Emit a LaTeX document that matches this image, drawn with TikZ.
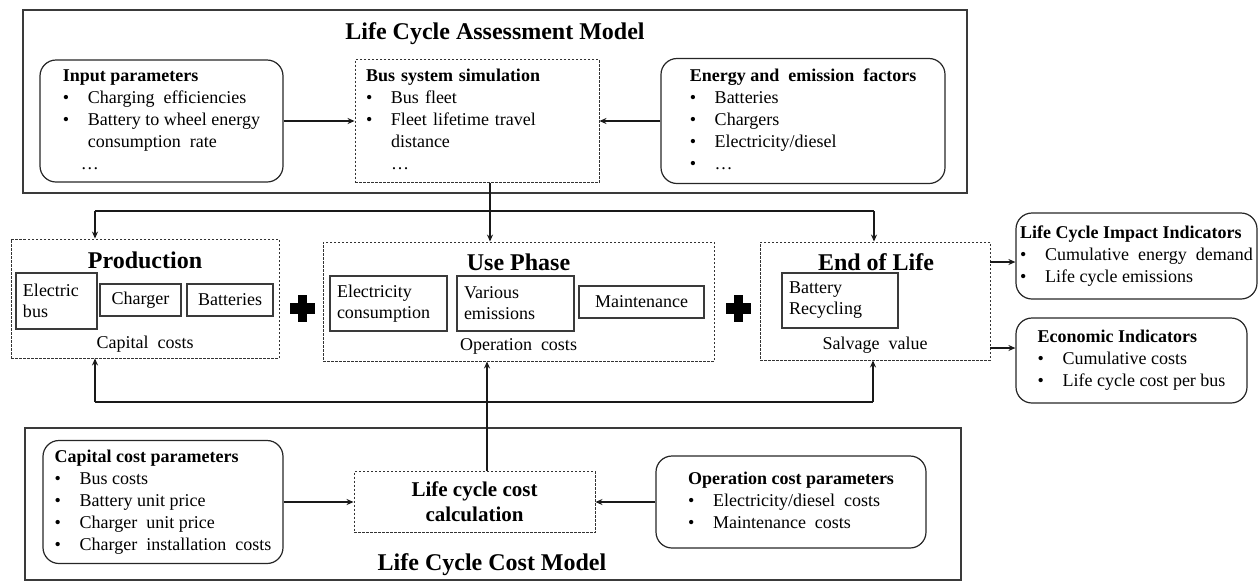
\documentclass[tikz,border=0pt]{standalone}
\usepackage{fontspec}
\setmainfont{Liberation Serif}
\usetikzlibrary{arrows.meta}

\definecolor{linegray}{HTML}{3A3A3A}

% list with a bold heading and bullet rows
\newcommand{\plist}[2]{%
  \begin{tabular}{@{}p{25pt}@{}l@{}}
    \multicolumn{2}{@{}l@{}}{\textbf{#1}}\\
    #2
  \end{tabular}}
\newcommand{\bul}{\textbullet}

\begin{document}
\begin{tikzpicture}[
    x = 1pt, y = -1pt, % pixel grid, y pointing down
    > = {Stealth[length=7pt,width=6pt]}, % arrow head style
    modelbox/.style={draw=linegray, line width=1.2pt, inner sep=0pt},
    parambox/.style={draw=black!85, line width=1.2pt, rounded corners=16pt,
      inner sep=0pt, font=\fontsize{18}{22}\selectfont},
    dashbox/.style={draw=black!80, line width=0.9pt,
      dash pattern=on 2.5pt off 1.5pt, inner sep=0pt},
    itembox/.style={draw=linegray, line width=1.5pt, inner sep=0pt,
      font=\fontsize{18}{21}\selectfont},
    twoline/.style={itembox, align=left, text width=#1, inner xsep=7pt},
    title/.style={font=\fontsize{24}{28}\selectfont\bfseries, anchor=base},
    caption/.style={font=\fontsize{18}{22}\selectfont, anchor=base},
    flow/.style={->, line width=1.8pt, draw=black!90},
    bigflow/.style={->, line width=2.6pt, draw=black!90},
    link/.style={line width=1.8pt, draw=black!90}
  ]
  \useasboundingbox (0,0) rectangle (1260,582);

  % Life Cycle Assessment Model
  \node[modelbox, minimum width=944pt, minimum height=183pt] (lca) at (495,101.5) {};
  \node[title] (lcatitle) at (495,39) {Life Cycle Assessment Model};
  \node[parambox, minimum width=243pt, minimum height=122pt] (input) at (161.5,121)
    {\plist{Input parameters}{\bul & Charging\ \ efficiencies\\
      \bul & Battery to wheel energy\\ & consumption\ \ rate\\ & \hspace*{-7pt}\ldots}};
  \node[dashbox, minimum width=244pt, minimum height=123pt, text width=222pt,
    align=left, font=\fontsize{18}{22}\selectfont] (bussim) at (477,121)
    {\plist{Bus system simulation}{\bul & Bus fleet\\
      \bul & Fleet lifetime travel\\ & distance\\ & \ldots}};
  \node[parambox, minimum width=284pt, minimum height=125pt] (energy) at (803,121)
    {\plist{Energy and\ \ emission\ \ factors}{\bul & Batteries\\
      \bul & Chargers\\ \bul & Electricity/diesel\\ \bul & \ldots}};

  % Life cycle stages
  \node[dashbox, minimum width=268pt, minimum height=119pt] (prod) at (145,298.5) {};
  \node[title] (prodtitle) at (145,268) {Production};
  \node[twoline=67pt, minimum height=56pt] (ebus) at (56.5,301) {Electric\\bus};
  \node[itembox, minimum width=81pt, minimum height=32pt] (charger) at (140.5,300) {Charger};
  \node[itembox, minimum width=86pt, minimum height=32pt] (batt) at (230,300) {Batteries};
  \node[caption] (capcost) at (145,348) {Capital\ \ costs};

  \node[dashbox, minimum width=391pt, minimum height=119pt] (use) at (518.5,301.5) {};
  \node[title] (usetitle) at (518.5,270) {Use Phase};
  \node[twoline=103pt, minimum height=55pt] (elec) at (388.5,303.5) {Electricity\\consumption};
  \node[twoline=103pt, minimum height=55pt] (emis) at (515.5,303.5) {Various\\emissions};
  \node[itembox, minimum width=125pt, minimum height=32pt] (maint) at (641.5,302) {Maintenance};
  \node[caption] (opcost) at (518.5,350) {Operation\ \ costs};

  \node[dashbox, minimum width=230pt, minimum height=118pt] (eol) at (875,301) {};
  \node[title] (eoltitle) at (876,270) {End of Life};
  \node[twoline=102pt, minimum height=55pt] (recyc) at (840,300.5) {Battery\\Recycling};
  \node[caption] (salvage) at (875,349) {Salvage\ \ value};

  % plus signs between stages
  \foreach \px in {302,738} {
    \fill (\px-12.5,302.5) rectangle (\px+12.5,313.5);
    \fill (\px-4.5,294.5) rectangle (\px+4.5,321.5);
  }

  % Indicators
  \node[parambox, minimum width=241pt, minimum height=86pt] (impact) at (1136.5,256)
    {\plist{Life Cycle Impact Indicators}{\bul & Cumulative\ \ energy\ \ demand\\
      \bul & Life cycle emissions}};
  \node[parambox, minimum width=231pt, minimum height=85pt] (econ) at (1131.5,360.5)
    {\plist{Economic Indicators}{\bul & Cumulative costs\\
      \bul & Life cycle cost per bus}};

  % Life Cycle Cost Model
  \node[modelbox, minimum width=936pt, minimum height=152pt] (lcc) at (493,504) {};
  \node[title] (lcctitle) at (492,570) {Life Cycle Cost Model};
  \node[parambox, minimum width=240pt, minimum height=123pt] (capital) at (163,502)
    {\plist{Capital cost parameters}{\bul & Bus costs\\
      \bul & Battery unit price\\ \bul & Charger\ \ unit price\\
      \bul & Charger\ \ installation\ \ costs}};
  \node[dashbox, minimum width=241pt, minimum height=61pt, align=center,
    font=\fontsize{21}{25}\selectfont\bfseries] (calc) at (474.5,502)
    {Life cycle cost\\calculation};
  \node[parambox, minimum width=270pt, minimum height=92pt] (opparam) at (791,502)
    {\plist{Operation cost parameters}{\bul & Electricity/diesel\ \ costs\\
      \bul & Maintenance\ \ costs}};

  % branch points
  \coordinate (topL) at (95,211);
  \coordinate (topM) at (490,211);
  \coordinate (topR) at (874,211);
  \coordinate (botL) at (95,402);
  \coordinate (botM) at (487,402);
  \coordinate (botR) at (873,402);

  % Edges
  \draw[bigflow] (input.east) -- (bussim.west);
  \draw[flow, line width=1.5pt] (energy.west) -- (bussim.east);
  \draw[flow] (bussim.south -| topM) -- (use.north -| topM);
  \draw[link] (topL) -- (topR);
  \draw[flow] (topL) -- (topL |- prod.north);
  \draw[flow] (topR) -- (topR |- eol.north);

  \draw[bigflow] (capital.east) -- (calc.west);
  \draw[flow, line width=1.5pt] (opparam.west) -- (calc.east);
  \draw[flow] (calc.north -| botM) -- (use.south -| botM);
  \draw[link] (botL) -- (botR);
  \draw[flow] (botL) -- (botL |- prod.south);
  \draw[flow] (botR) -- (botR |- eol.south);

  \draw[bigflow] (eol.east |- 0,262) -- (impact.west |- 0,262);
  \draw[bigflow] (eol.east |- 0,348) -- (econ.west |- 0,348);
\end{tikzpicture}
\end{document}
